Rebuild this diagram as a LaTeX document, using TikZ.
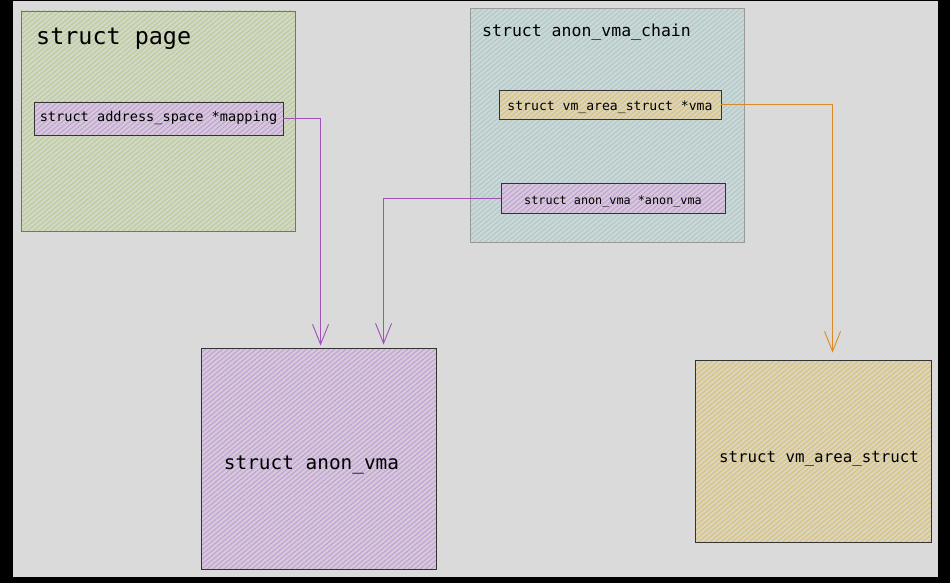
\documentclass[tikz,border=0pt]{standalone}
\usepackage{fontspec}
\setmonofont{DejaVu Sans Mono}
\usetikzlibrary{calc,patterns.meta,arrows.meta}

\definecolor{bggray}{HTML}{DADADA}
\definecolor{pagegreen}{HTML}{B9CC93}
\definecolor{chainteal}{HTML}{A9CACA}
\definecolor{anonpurple}{HTML}{C49CD6}
\definecolor{vmyellow}{HTML}{D9C171}
\definecolor{ptrpurple}{HTML}{A052B8}
\definecolor{ptrorange}{HTML}{DC8A26}

\tikzset{
  hatch/.style={preaction={fill=#1!25!bggray},
    pattern={Lines[angle=40,distance=3.6pt,line width=1pt]}, pattern color=#1},
  outerbox/.style={draw=black!55, line width=0.9pt, rectangle, inner sep=0pt},
  fieldbox/.style={draw=black!80, line width=0.9pt, rectangle, inner sep=0pt},
  ptr/.style={line width=1pt, -{Straight Barb[length=20pt,width=16pt,line width=0.9pt]}},
}

\newcommand{\mono}[1]{\fontsize{#1}{#1}\selectfont\ttfamily}
\newcommand{\drop}[2]{\raisebox{#1}[0pt][0pt]{#2}}

\begin{document}
\begin{tikzpicture}[x=1pt,y=-1pt]
  \useasboundingbox (0,0) rectangle (950,583);
  \fill[black] (0,0) rectangle (950,583);
  \fill[bggray] (13,1) rectangle (938,577);

  % struct page
  \node [outerbox, hatch=pagegreen, minimum width=274pt, minimum height=220pt]
    (page) at (158,121) {};
  \node [anchor=west, inner sep=0pt, font=\mono{23.4}] (pagetitle) at (36,39) {struct page};
  \node [fieldbox, hatch=anonpurple, minimum width=249pt, minimum height=33pt,
    font=\mono{13.6}] (mapfield) at (158.5,118.5) {\drop{-3pt}{struct address\_space *mapping}};

  % struct anon_vma_chain
  \node [outerbox, draw=black!40, hatch=chainteal, minimum width=274pt, minimum height=234pt]
    (chain) at (607.5,125.5) {};
  \node [anchor=west, inner sep=0pt, font=\mono{16.5}] (chaintitle) at (482,32) {struct anon\_vma\_chain};
  \node [fieldbox, hatch=vmyellow, minimum width=222pt, minimum height=29pt,
    font=\mono{13.1}] (vmafield) at (610,104.5) {\drop{-6pt}{struct vm\_area\_struct *vma}};
  \node [fieldbox, hatch=anonpurple, minimum width=224pt, minimum height=30pt,
    font=\mono{11.8}] (avfield) at (613,198) {\drop{-6pt}{struct anon\_vma *anon\_vma}};

  % targets
  \node [fieldbox, hatch=anonpurple, minimum width=235pt, minimum height=221pt,
    font=\mono{19.4}] (anonvma) at (318.5,458.5) {\hspace*{-14pt}\drop{-11pt}{struct anon\_vma}};
  \node [fieldbox, hatch=vmyellow, minimum width=236pt, minimum height=182pt,
    font=\mono{15.8}] (vmarea) at (813,451) {\hspace*{12pt}\drop{-11pt}{struct vm\_area\_struct}};

  % pointers
  \draw [ptr, ptrpurple] (mapfield.east) -| ($(anonvma.north west)+(120,-2)$);
  \draw [ptr, ptrpurple] (avfield.west) -| ($(anonvma.north west)+(183,-3)$);
  \draw [ptr, ptrorange] (vmafield.east) -| ($(vmarea.north west)+(138,-7)$);
\end{tikzpicture}
\end{document}
